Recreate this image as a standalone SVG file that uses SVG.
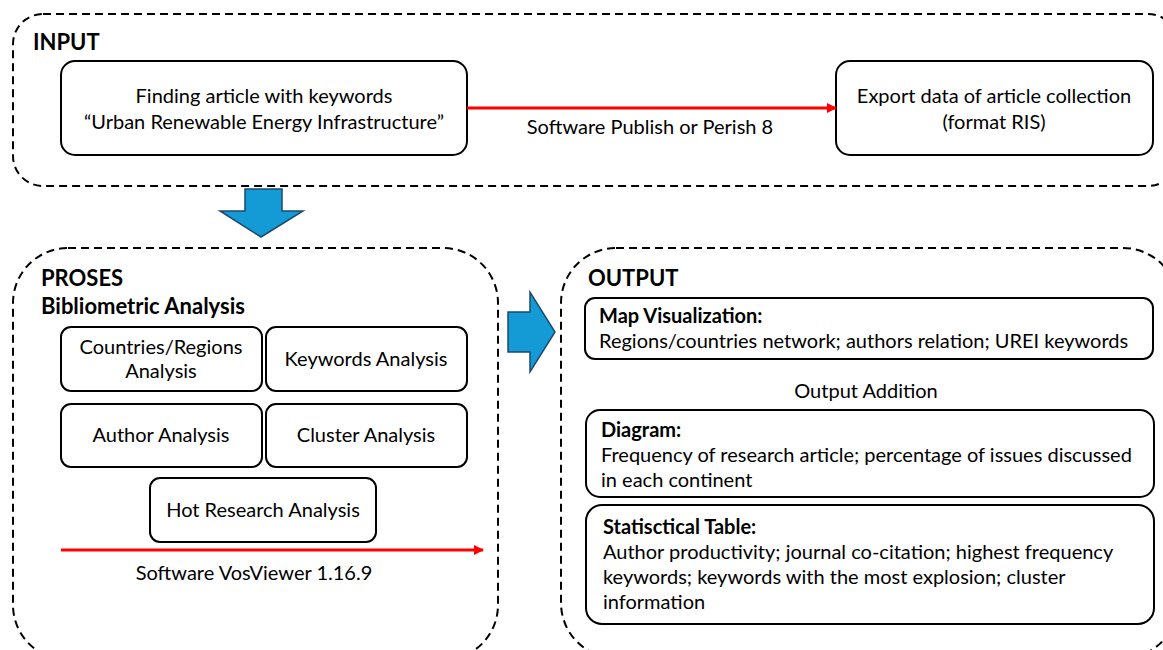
<svg xmlns="http://www.w3.org/2000/svg" width="1163" height="650" viewBox="0 0 1163 650">
<defs>
<style>
.cont{fill:none;stroke:#000;stroke-width:2;stroke-dasharray:8 5}
.box{fill:#fff;stroke:#000;stroke-width:2}
.t{font-family:Lato,"Liberation Sans",sans-serif;font-size:20px;fill:#000}
.c{text-anchor:middle}
.b{font-weight:bold}
.h{font-family:Lato,"Liberation Sans",sans-serif;font-size:22px;font-weight:bold;fill:#000}
.red{stroke:#ff0000;stroke-width:3;fill:none}
.blue{fill:#149ad4;stroke:#1c4a6e;stroke-width:1.5}
</style>
<marker id="ah" markerWidth="10" markerHeight="10" refX="9" refY="5" orient="auto" markerUnits="userSpaceOnUse"><path d="M0,0 L10,5 L0,10 z" fill="#ff0000"/></marker>
</defs>
<g id="input">
<rect class="cont" x="13" y="14" width="1165" height="172" rx="30"/>
<text class="h" x="33" y="50">INPUT</text>
</g>
<g id="find">
<rect class="box" x="61" y="61" width="406" height="94" rx="14"/>
<text class="t c" x="264" y="103">Finding article with keywords</text>
<text class="t c" x="264" y="129">“Urban Renewable Energy Infrastructure”</text>
</g>
<g id="export">
<rect class="box" x="836" y="61" width="317" height="94" rx="14"/>
<text class="t c" x="994" y="103">Export data of article collection</text>
<text class="t c" x="994" y="129">(format RIS)</text>
</g>
<g id="proses">
<rect class="cont" x="13" y="248" width="485" height="412" rx="55"/>
<text class="h" x="41" y="286">PROSES</text>
<text class="h" x="41" y="314">Bibliometric Analysis</text>
</g>
<g id="countries">
<rect class="box" x="61" y="327" width="201" height="64" rx="10"/>
<text class="t c" x="161" y="354">Countries/Regions</text>
<text class="t c" x="161" y="378">Analysis</text>
</g>
<g id="keywords">
<rect class="box" x="266" y="327" width="201" height="64" rx="10"/>
<text class="t c" x="366" y="366">Keywords Analysis</text>
</g>
<g id="author">
<rect class="box" x="61" y="404" width="201" height="63" rx="10"/>
<text class="t c" x="161" y="442">Author Analysis</text>
</g>
<g id="cluster">
<rect class="box" x="266" y="404" width="201" height="63" rx="10"/>
<text class="t c" x="366" y="442">Cluster Analysis</text>
</g>
<g id="hot">
<rect class="box" x="150" y="478" width="226" height="64" rx="10"/>
<text class="t c" x="263" y="517">Hot Research Analysis</text>
</g>
<g id="output">
<rect class="cont" x="561" y="248" width="617" height="410" rx="55"/>
<text class="h" x="588" y="286">OUTPUT</text>
<text class="t c" x="866" y="398">Output Addition</text>
</g>
<g id="map">
<rect class="box" x="585" y="298" width="568" height="61" rx="10"/>
<text class="t b" x="599" y="323">Map Visualization:</text>
<text class="t" x="599" y="348">Regions/countries network; authors relation; UREI keywords</text>
</g>
<g id="diagram">
<rect class="box" x="586" y="410" width="568" height="87" rx="14"/>
<text class="t b" x="601" y="437">Diagram:</text>
<text class="t" x="601" y="462">Frequency of research article; percentage of issues discussed</text>
<text class="t" x="601" y="487">in each continent</text>
</g>
<g id="table">
<rect class="box" x="586" y="505" width="568" height="119" rx="16"/>
<text class="t b" x="603" y="534">Statisctical Table:</text>
<text class="t" x="603" y="559">Author productivity; journal co-citation; highest frequency</text>
<text class="t" x="603" y="584">keywords; keywords with the most explosion; cluster</text>
<text class="t" x="603" y="609">information</text>
</g>
<g id="connectors">
<line class="red" x1="467" y1="108" x2="836" y2="108" marker-end="url(#ah)"/>
<text class="t c" x="650" y="134">Software Publish or Perish 8</text>
<line class="red" x1="61" y1="550" x2="483" y2="550" marker-end="url(#ah)"/>
<text class="t c" x="254" y="580">Software VosViewer 1.16.9</text>
<path class="blue" d="M245,189 L282,189 L282,211 L303,211 L261,237 L220,211 L245,211 Z"/>
<path class="blue" d="M508,312 L530,312 L530,292 L555,332 L530,372 L530,352 L508,352 Z"/>
</g>
</svg>
